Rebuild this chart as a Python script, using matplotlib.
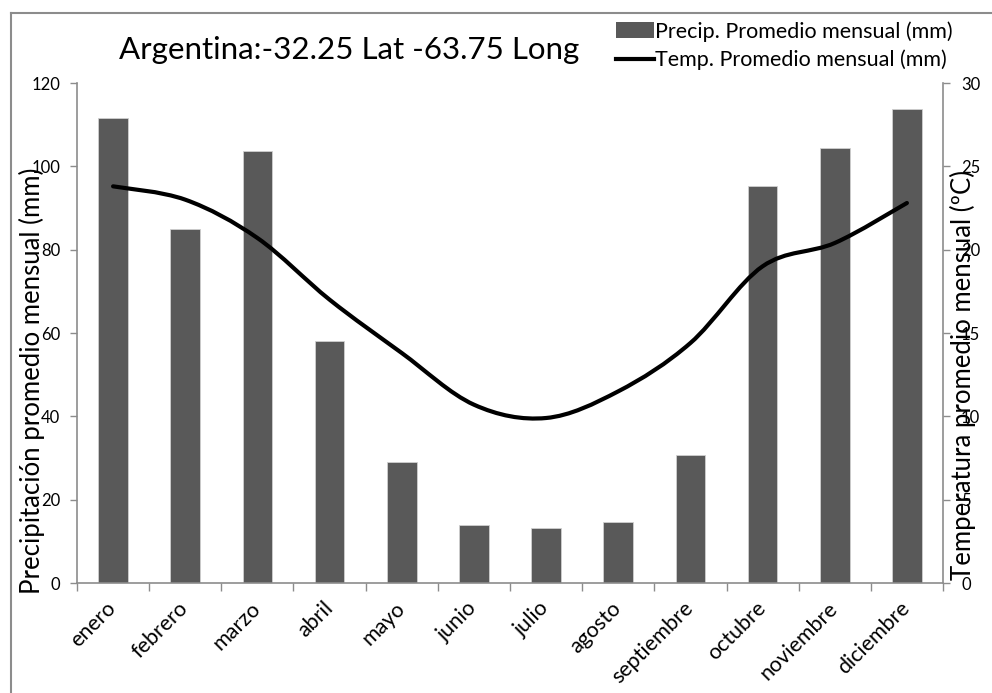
import matplotlib
matplotlib.use("Agg")
import matplotlib.pyplot as plt
from matplotlib.path import Path
from matplotlib.patches import PathPatch, Rectangle
from matplotlib.lines import Line2D
from matplotlib.ticker import FixedLocator, NullFormatter
import numpy as np

months = ["enero", "febrero", "marzo", "abril", "mayo", "junio",
          "julio", "agosto", "septiembre", "octubre", "noviembre", "diciembre"]
precip = [111.6, 85.0, 103.7, 58.1, 29.1, 13.9, 13.2, 14.6, 30.8, 95.3, 104.3, 113.7]
temp = [23.8, 23.0, 20.7, 17.0, 13.8, 10.7, 9.9, 11.5, 14.4, 19.0, 20.4, 22.8]

title = "Argentina:-32.25 Lat -63.75 Long"
precip_label = "Precip. Promedio mensual (mm)"
temp_label = "Temp. Promedio mensual (mm)"
ylabel_left = "Precipitación promedio mensual (mm)"
ylabel_right = "Temperatura promedio mensual (ºC)"

plt.rcParams["font.family"] = ["Lato", "DejaVu Sans"]
AXIS_GREY = "#8c8c8c"
BAR_GREY = "#595959"

W, H = 992, 693
fig = plt.figure(figsize=(W / 100, H / 100), dpi=100)
fig.patch.set_facecolor("white")

# chart frame: top and left edges (the rest runs past the image)
fx, fy = 11 / W, 1 - 13 / H
fig.add_artist(Line2D([fx, 1.05], [fy, fy], transform=fig.transFigure,
                      color=AXIS_GREY, linewidth=1.5, clip_on=False))
fig.add_artist(Line2D([fx, fx], [fy, -0.05], transform=fig.transFigure,
                      color=AXIS_GREY, linewidth=1.5, clip_on=False))

left, right, top, bottom = 77, 943, 83, 583
ax = fig.add_axes([left / W, (H - bottom) / H, (right - left) / W, (bottom - top) / H])
ax2 = ax.twinx()

x = np.arange(len(months))
ax.bar(x, precip, width=0.41, color=BAR_GREY, edgecolor="#d0d0d0", linewidth=0.6, zorder=2)
ax.set_xlim(-0.5, len(months) - 0.5)
ax.set_ylim(0, 120)
ax.set_yticks(np.arange(0, 121, 20))
ax2.set_ylim(0, 30)
ax2.set_yticks(np.arange(0, 31, 5))

# smooth temperature curve: cubic Bezier segments through the monthly values
verts = [(x[0], temp[0])]
codes = [Path.MOVETO]
n = len(temp)
for i in range(n - 1):
    p0 = np.array([x[max(i - 1, 0)], temp[max(i - 1, 0)]], float)
    p1 = np.array([x[i], temp[i]], float)
    p2 = np.array([x[i + 1], temp[i + 1]], float)
    p3 = np.array([x[min(i + 2, n - 1)], temp[min(i + 2, n - 1)]], float)
    c1 = p1 + (p2 - p0) / 6.0
    c2 = p2 - (p3 - p1) / 6.0
    verts += [tuple(c1), tuple(c2), tuple(p2)]
    codes += [Path.CURVE4] * 3
ax2.add_patch(PathPatch(Path(verts, codes), fill=False, edgecolor="black",
                        linewidth=3.0, capstyle="round", zorder=3))

# axes styling
for a in (ax, ax2):
    a.spines["top"].set_visible(False)
    for s in ("left", "right", "bottom"):
        a.spines[s].set_color(AXIS_GREY)
        a.spines[s].set_linewidth(1.2)
ax.spines["right"].set_visible(False)
ax2.spines["left"].set_visible(False)
ax2.spines["bottom"].set_visible(False)

ax.tick_params(axis="y", direction="out", length=5, color=AXIS_GREY, width=1.0,
               labelsize=12, pad=7, labelcolor="black")
ax2.tick_params(axis="y", direction="out", length=5, color=AXIS_GREY, width=1.0,
                labelsize=12, pad=8, labelcolor="black")

ax.set_xticks(x)
ax.set_xticklabels(months, rotation=45, ha="right", va="center",
                   rotation_mode="anchor", fontsize=15.5)
ax.tick_params(axis="x", which="major", length=0, pad=16)
ax.xaxis.set_minor_locator(FixedLocator(np.arange(-0.5, len(months), 1.0)))
ax.xaxis.set_minor_formatter(NullFormatter())
ax.tick_params(axis="x", which="minor", direction="out", length=6, color=AXIS_GREY, width=1.0)

ax.set_ylabel(ylabel_left, fontsize=18.5)
ax.yaxis.set_label_coords(-(left - 45) / (right - left), 0.405)
ax2.set_ylabel(ylabel_right, fontsize=18.5)
ax2.yaxis.set_label_coords(1 + (950 - right) / (right - left), 0.415)

fig.text(349 / W, 1 - 50 / H, title, ha="center", va="center", fontsize=22.5)

handles = [Rectangle((0, 0), 1, 1, facecolor=BAR_GREY, edgecolor="none"),
           Line2D([0], [0], color="black", linewidth=3.0)]
fig.legend(handles, [precip_label, temp_label], loc="upper left",
           bbox_to_anchor=(616 / W, 1 - 21 / H), frameon=False, fontsize=15.5,
           handlelength=1.75, handleheight=0.75, handletextpad=0.05,
           labelspacing=0.38, borderaxespad=0, borderpad=0)

fig.savefig("out.png", dpi=100, facecolor="white")
